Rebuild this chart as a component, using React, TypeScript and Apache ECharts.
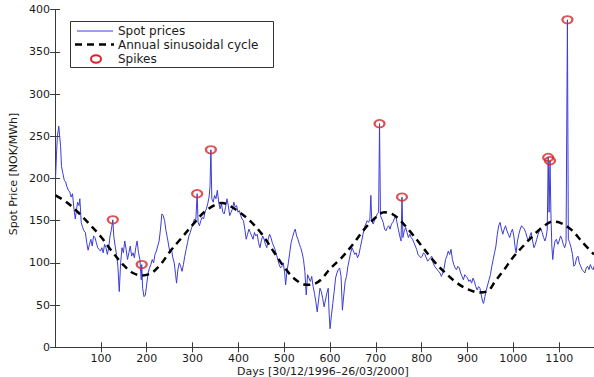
import React, { useEffect, useRef } from "react";
import * as echarts from "echarts";

// Daily spot price as [day, NOK/MWh]
const spotPrices: [number, number][] = [
  [1,200],[3,228],[5,250],[8,262],[10,250],[12,238],[14,214],[17,206],[20,198],[23,196],[26,190],[29,186],[32,184],[35,178],[38,182],[41,165],[44,152],[46,160],[49,172],[52,168],[54,176],[57,148],[60,142],[63,138],[66,136],[69,124],[72,115],[75,122],[78,128],[81,120],[84,132],[87,130],[90,124],[93,118],[96,116],[99,114],[102,118],[105,112],[108,122],[111,118],[114,110],[117,118],[120,132],[123,140],[126,151],[128,132],[131,120],[134,110],[137,96],[140,66],[143,100],[146,118],[149,112],[152,126],[155,116],[158,104],[161,112],[164,120],[167,108],[170,112],[173,106],[176,118],[179,126],[182,112],[185,104],[188,80],[189,98],[191,70],[194,60],[197,62],[200,75],[203,88],[206,94],[209,98],[212,104],[215,100],[218,110],[221,114],[224,120],[227,126],[230,140],[233,158],[236,156],[239,150],[242,138],[245,130],[248,120],[251,112],[254,116],[257,106],[260,100],[263,86],[265,76],[268,92],[271,100],[274,96],[277,90],[280,98],[283,108],[286,116],[289,124],[292,132],[295,136],[298,142],[301,146],[304,152],[307,150],[310,182],[312,148],[315,144],[318,150],[321,154],[324,152],[327,160],[330,164],[333,170],[336,178],[338,190],[340,234],[342,176],[345,172],[348,180],[351,176],[354,186],[357,172],[360,164],[363,170],[366,160],[369,158],[372,166],[375,176],[378,168],[381,156],[384,160],[387,164],[390,172],[393,166],[396,168],[399,160],[402,162],[405,156],[408,152],[411,150],[414,140],[417,128],[420,134],[423,140],[426,136],[429,132],[432,128],[435,136],[438,132],[441,134],[444,124],[447,118],[450,126],[453,132],[456,128],[459,122],[462,118],[465,128],[468,134],[471,130],[474,124],[477,120],[480,116],[483,110],[486,104],[489,98],[492,94],[495,96],[498,100],[501,88],[503,74],[506,90],[509,100],[512,112],[515,124],[518,130],[521,136],[524,140],[527,132],[530,128],[533,122],[536,118],[539,112],[542,104],[545,90],[548,62],[551,86],[554,82],[557,78],[560,84],[563,72],[566,64],[569,54],[572,42],[575,56],[578,70],[581,66],[584,58],[587,48],[590,56],[593,64],[596,70],[598,40],[600,22],[603,38],[606,52],[609,66],[612,82],[615,88],[618,92],[621,94],[624,84],[627,44],[630,62],[633,78],[636,84],[639,96],[642,104],[645,112],[648,118],[651,114],[654,110],[657,112],[660,106],[663,110],[666,118],[669,126],[672,134],[675,142],[678,146],[681,150],[684,148],[687,152],[689,180],[691,150],[694,146],[697,150],[700,154],[703,158],[706,160],[708,265],[710,156],[713,152],[716,148],[719,140],[722,138],[725,142],[728,144],[731,140],[734,146],[737,148],[740,152],[743,156],[746,148],[749,140],[752,132],[755,126],[757,178],[759,130],[762,138],[765,142],[768,136],[771,130],[774,134],[777,130],[780,128],[783,124],[786,120],[789,116],[792,110],[795,108],[798,106],[801,108],[804,112],[807,110],[810,106],[813,102],[816,104],[819,106],[822,108],[825,100],[828,96],[831,94],[834,92],[837,90],[840,88],[843,84],[846,88],[849,94],[852,104],[855,108],[858,114],[861,110],[864,116],[867,104],[870,98],[873,94],[876,92],[879,96],[882,94],[885,88],[888,84],[891,80],[894,86],[897,84],[900,82],[903,78],[906,80],[909,76],[912,82],[915,78],[918,72],[921,68],[924,72],[927,70],[930,62],[933,54],[935,52],[938,60],[941,68],[944,74],[947,80],[950,86],[953,96],[956,104],[959,112],[962,120],[965,134],[968,144],[971,148],[974,140],[977,134],[980,140],[983,144],[986,138],[989,134],[992,130],[995,136],[998,140],[1001,132],[1004,118],[1006,112],[1009,126],[1012,134],[1015,140],[1018,144],[1021,142],[1024,140],[1027,136],[1030,130],[1033,126],[1036,132],[1039,136],[1042,126],[1045,118],[1048,122],[1051,128],[1054,134],[1057,138],[1060,140],[1063,136],[1066,130],[1069,126],[1072,132],[1074,140],[1076,225],[1078,160],[1080,221],[1082,158],[1084,120],[1086,104],[1088,116],[1091,126],[1094,128],[1097,122],[1100,126],[1103,132],[1106,128],[1109,122],[1112,118],[1115,124],[1118,388],[1120,128],[1123,124],[1126,118],[1129,110],[1132,96],[1135,98],[1138,106],[1141,108],[1144,100],[1147,96],[1150,92],[1153,90],[1156,88],[1159,94],[1162,96],[1165,92],[1168,98],[1171,94],[1174,92],[1176,96]
];

// Annual sinusoidal cycle
const sinusoidCycle: [number, number][] = [
  [1,180],[25,172],[50,160],[75,146],[100,131],[125,113],[150,97],[170,88],[190,85],[210,88],[230,98],[250,113],[275,129],[300,145],[325,160],[350,169],[365,171],[380,168],[400,161],[425,150],[450,135],[475,115],[500,95],[525,80],[550,74],[565,75],[580,80],[600,93],[625,106],[650,122],[675,140],[700,154],[718,160],[735,158],[750,152],[775,137],[800,120],[825,103],[850,89],[875,77],[900,69],[925,65],[945,67],[960,78],[980,92],[1000,107],[1025,122],[1050,136],[1070,145],[1085,149],[1100,148],[1125,140],[1150,125],[1176,110]
];

// Detected spikes
const spikes: [number, number][] = [
  [126,151],[189,98],[310,182],[340,234],[708,265],[757,178],[1076,225],[1080,221],[1118,388]
];

const xTicks = [100, 200, 300, 400, 500, 600, 700, 800, 900, 1000, 1100];
const yTicks = [0, 50, 100, 150, 200, 250, 300, 350, 400];

const legendLabels = ["Spot prices", "Annual sinusoidal cycle", "Spikes"];
const xAxisTitle = "Days [30/12/1996\u201326/03/2000]";
const yAxisTitle = "Spot Price [NOK/MWh]";

const FONT = "DejaVu Sans";
const AXIS_COLOR = "#3a3a3a";
const BLUE = "#3c3cd6";
const RED = "#d8252c";

export default function App() {
  const ref = useRef<HTMLDivElement>(null);
  useEffect(() => {
    if (!ref.current) return;
    const chart = echarts.init(ref.current, undefined, { renderer: "svg" });
    const axisCommon = {
      axisLine: { show: true, lineStyle: { color: AXIS_COLOR, width: 1 } },
      splitLine: { show: false },
    };
    const plain = (v: number) => String(v);
    chart.setOption({
      animation: false,
      backgroundColor: "#ffffff",
      grid: { left: 55.1, top: 9.7, width: 542.9, height: 337.6, containLabel: false },
      xAxis: [
        {
          type: "value", min: 0, max: 1176, interval: 100, position: "bottom",
          ...axisCommon,
          axisTick: { show: true, inside: true, length: 5, lineStyle: { color: AXIS_COLOR }, customValues: xTicks },
          axisLabel: {
            show: true, customValues: xTicks, margin: 5, formatter: plain,
            color: "#1a1a1a", fontFamily: FONT, fontSize: 11, lineHeight: 12,
          },
        },
        {
          type: "value", min: 0, max: 1176, interval: 100, position: "top",
          ...axisCommon,
          axisTick: { show: true, inside: true, length: 5, lineStyle: { color: AXIS_COLOR }, customValues: xTicks },
          axisLabel: { show: false },
        },
      ],
      yAxis: [
        {
          type: "value", min: 0, max: 400, interval: 50, position: "left",
          ...axisCommon,
          axisTick: { show: true, inside: true, length: 5, lineStyle: { color: AXIS_COLOR } },
          axisLabel: {
            show: true, margin: 5, color: "#1a1a1a", fontFamily: FONT, fontSize: 11,
            customValues: yTicks, formatter: plain,
          },
        },
        {
          type: "value", min: 0, max: 400, interval: 50, position: "right",
          ...axisCommon,
          axisTick: { show: true, inside: true, length: 5, lineStyle: { color: AXIS_COLOR } },
          axisLabel: { show: false },
        },
      ],
      series: [
        {
          name: legendLabels[0], type: "line", data: spotPrices, xAxisIndex: 0, yAxisIndex: 0,
          showSymbol: false, symbol: "none",
          lineStyle: { color: BLUE, width: 1 }, z: 2,
        },
        {
          name: legendLabels[1], type: "line", data: sinusoidCycle, smooth: 0.35,
          showSymbol: false, symbol: "none",
          lineStyle: { color: "#000000", width: 2.5, type: [7, 5] }, z: 3,
        },
        {
          name: legendLabels[2], type: "scatter", data: spikes,
          symbol: "circle", symbolSize: [10, 7.5],
          itemStyle: { color: "rgba(255,255,255,0)", borderColor: RED, borderWidth: 2 }, z: 4,
        },
      ],
      graphic: [
        {
          type: "rect", shape: { x: 70.5, y: 21.5, width: 203, height: 46 },
          style: { fill: "#ffffff", stroke: "#333333", lineWidth: 1 }, z: 10,
        },
        {
          type: "line", shape: { x1: 77, y1: 31, x2: 113, y2: 31 },
          style: { stroke: BLUE, lineWidth: 1 }, z: 11,
        },
        {
          type: "line", shape: { x1: 75, y1: 44.5, x2: 114, y2: 44.5 },
          style: { stroke: "#000000", lineWidth: 2.5, lineDash: [7, 5] }, z: 11,
        },
        {
          type: "ellipse", shape: { cx: 96, cy: 59, rx: 5, ry: 3.8 },
          style: { fill: "none", stroke: RED, lineWidth: 2 }, z: 11,
        },
        {
          type: "text", x: 118, y: 31, z: 11,
          style: { text: legendLabels[0], font: `12px "${FONT}"`, fill: "#1a1a1a", textVerticalAlign: "middle" },
        },
        {
          type: "text", x: 118, y: 44.5, z: 11,
          style: { text: legendLabels[1], font: `12px "${FONT}"`, fill: "#1a1a1a", textVerticalAlign: "middle" },
        },
        {
          type: "text", x: 118, y: 59, z: 11,
          style: { text: legendLabels[2], font: `12px "${FONT}"`, fill: "#1a1a1a", textVerticalAlign: "middle" },
        },
        {
          type: "text", x: 323, y: 371.5, z: 11,
          style: { text: xAxisTitle, font: `11px "${FONT}"`, fill: "#1a1a1a", textAlign: "center", textVerticalAlign: "middle" },
        },
        {
          type: "text", x: 13, y: 174, rotation: Math.PI / 2, z: 11,
          style: { text: yAxisTitle, font: `11px "${FONT}"`, fill: "#1a1a1a", textAlign: "center", textVerticalAlign: "middle" },
        },
      ],
    });
    return () => chart.dispose();
  }, []);
  return <div ref={ref} style={{ width: 594, height: 377, position: "absolute", left: 0, top: 0 }} />;
}
